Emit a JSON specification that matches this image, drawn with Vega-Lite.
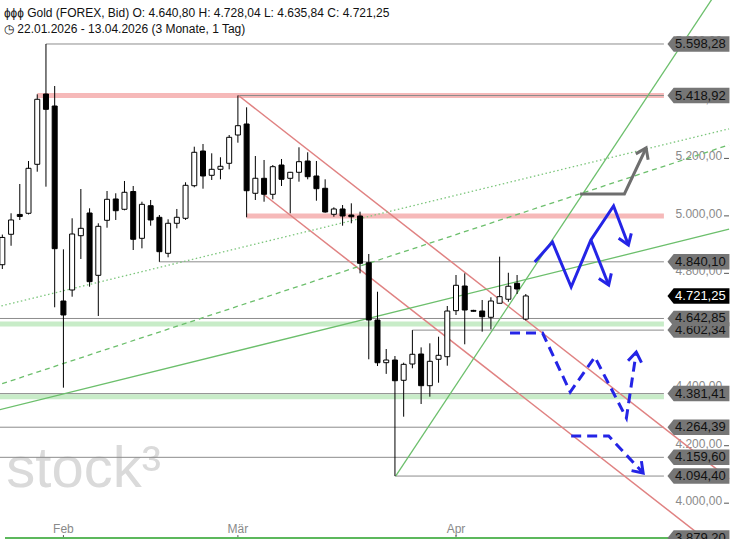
{
 "$schema": "https://vega.github.io/schema/vega-lite/v6.json",
 "width": 734, "height": 539, "autosize": {"type": "none"}, "padding": 0,
 "background": "white",
 "title": {"text": "ɸɸɸ  Gold (FOREX, Bid)  O: 4.640,80  H: 4.728,04  L: 4.635,84  C: 4.721,25", "subtitle": "◷  22.01.2026 - 13.04.2026  (3 Monate, 1 Tag)", "anchor": "start", "frame": "group", "orient": "top", "offset": -36, "dx": 4, "fontSize": 12, "fontWeight": "normal", "color": "#111", "subtitleFontSize": 12, "subtitleColor": "#111", "subtitlePadding": 4, "font": "Liberation Sans", "subtitleFont": "Liberation Sans"},
 "config": {"view": {"stroke": null}, "font": "Liberation Sans", "locale": {"number": {"decimal": ",", "thousands": ".", "grouping": [3], "currency": ["", " €"]}}},
 "datasets": {
  "candles": [
   {"i":0,"o":4830,"h":4935,"l":4815,"c":4925},
   {"i":1,"o":4935.9,"h":5009,"l":4896,"c":4985.7},
   {"i":2,"o":5005,"h":5111,"l":4985.6,"c":4998},
   {"i":3,"o":5009,"h":5191,"l":5005,"c":5165.6},
   {"i":4,"o":5179.5,"h":5423.2,"l":5153.8,"c":5405.8},
   {"i":5,"o":5424.2,"h":5598.28,"l":5101.6,"c":5370.9},
   {"i":6,"o":5382.4,"h":5452,"l":4681.8,"c":4885.8},
   {"i":7,"o":4703.7,"h":4883.6,"l":4402,"c":4655},
   {"i":8,"o":4742,"h":4991.6,"l":4718.7,"c":4936.9},
   {"i":9,"o":4931,"h":5093.5,"l":4849.9,"c":4956.7},
   {"i":10,"o":5010,"h":5026.4,"l":4753.5,"c":4770.9},
   {"i":11,"o":4793.1,"h":4974.2,"l":4651.5,"c":4963.7},
   {"i":12,"o":4984.6,"h":5086.6,"l":4958.8,"c":5057.7},
   {"i":13,"o":5058.8,"h":5078.6,"l":4985.7,"c":5018},
   {"i":14,"o":5022.9,"h":5121.4,"l":5019.4,"c":5082.1},
   {"i":15,"o":5084.8,"h":5104,"l":4881.2,"c":4918.5},
   {"i":16,"o":4921.9,"h":5049.3,"l":4887,"c":5040.2},
   {"i":17,"o":5035.4,"h":5055.3,"l":4965.8,"c":4985.7},
   {"i":18,"o":4995,"h":5003,"l":4840.1,"c":4875.3},
   {"i":19,"o":4869.7,"h":4988.1,"l":4855.8,"c":4974.2},
   {"i":20,"o":4974.2,"h":5024,"l":4956.7,"c":4995.1},
   {"i":21,"o":4991.6,"h":5116.9,"l":4985.7,"c":5106.4},
   {"i":22,"o":5105,"h":5240.8,"l":5099.5,"c":5221.3},
   {"i":23,"o":5225.8,"h":5250.2,"l":5094.6,"c":5138.8},
   {"i":24,"o":5141.2,"h":5217.8,"l":5124.9,"c":5162.1},
   {"i":25,"o":5162.1,"h":5204,"l":5127.3,"c":5172.6},
   {"i":26,"o":5183,"h":5281.5,"l":5162.1,"c":5273.5},
   {"i":27,"o":5281.5,"h":5418.92,"l":5254.7,"c":5313.9},
   {"i":28,"o":5319.8,"h":5377.9,"l":4995,"c":5087.6},
   {"i":29,"o":5078.6,"h":5208.4,"l":5055.3,"c":5130.9},
   {"i":30,"o":5130.8,"h":5194.5,"l":5049.3,"c":5075.1},
   {"i":31,"o":5075.1,"h":5177,"l":5057.7,"c":5171.2},
   {"i":32,"o":5177,"h":5198,"l":5104,"c":5127.3},
   {"i":33,"o":5130.8,"h":5153,"l":5009,"c":5151.7},
   {"i":34,"o":5151.7,"h":5238.7,"l":5119,"c":5188.6},
   {"i":35,"o":5191,"h":5221.3,"l":5127.3,"c":5136.4},
   {"i":36,"o":5138.8,"h":5191,"l":5052.8,"c":5094.6},
   {"i":37,"o":5096,"h":5127.3,"l":5011,"c":5013.5},
   {"i":38,"o":5005.5,"h":5029.8,"l":4997,"c":5024},
   {"i":39,"o":5024,"h":5037.8,"l":4965.8,"c":4999.6},
   {"i":40,"o":5003,"h":5043.7,"l":4974.2,"c":4997},
   {"i":41,"o":4999.6,"h":5014.6,"l":4800,"c":4834.9},
   {"i":42,"o":4837,"h":4867.3,"l":4500.8,"c":4637.6},
   {"i":43,"o":4637.6,"h":4736,"l":4477.4,"c":4488.8},
   {"i":44,"o":4489,"h":4536.6,"l":4450,"c":4498.3},
   {"i":45,"o":4498.3,"h":4512.2,"l":4094.4,"c":4426.2},
   {"i":46,"o":4427.7,"h":4489,"l":4301,"c":4483.3},
   {"i":47,"o":4484.4,"h":4602.34,"l":4469.5,"c":4518.2},
   {"i":48,"o":4519.2,"h":4542.3,"l":4345.2,"c":4408.9},
   {"i":49,"o":4408.9,"h":4556.4,"l":4370.6,"c":4493.8},
   {"i":50,"o":4500.8,"h":4579.4,"l":4419.3,"c":4514.7},
   {"i":51,"o":4509.8,"h":4686.3,"l":4478.5,"c":4668.8},
   {"i":52,"o":4670,"h":4794.2,"l":4655,"c":4758.4},
   {"i":53,"o":4755.9,"h":4800,"l":4553,"c":4672.3},
   {"i":54,"o":4671,"h":4673,"l":4667,"c":4668},
   {"i":55,"o":4668.8,"h":4707.2,"l":4596.9,"c":4649},
   {"i":56,"o":4647,"h":4716.6,"l":4605.2,"c":4703.7},
   {"i":57,"o":4695.8,"h":4858,"l":4695.8,"c":4718.8},
   {"i":58,"o":4709.8,"h":4802,"l":4701,"c":4755},
   {"i":59,"o":4765.3,"h":4794.2,"l":4728.1,"c":4745.5},
   {"i":60,"o":4640.8,"h":4728.04,"l":4635.84,"c":4721.25}
  ],
  "levels": [
   {"v":4624,"from":-1,"k":"green"},
   {"v":4370.5,"from":-1,"k":"green"},
   {"v":5418.92,"from":4,"k":"pink"},
   {"v":5000,"from":28,"k":"pink"},
   {"v":5598.28,"from":5,"k":"gray"},
   {"v":5418.92,"from":27,"k":"gray"},
   {"v":4840.10,"from":18,"k":"gray"},
   {"v":4642.85,"from":-1,"k":"gray"},
   {"v":4602.34,"from":47,"k":"gray"},
   {"v":4381.41,"from":-1,"k":"gray"},
   {"v":4264.39,"from":-1,"k":"gray"},
   {"v":4159.60,"from":-1,"k":"gray"},
   {"v":4094.40,"from":45,"k":"gray"}
  ],
  "trend": [
   {"id":"r1","s":"red","seq":0,"i":27.07,"v":5418.92},
   {"id":"r1","s":"red","seq":1,"i":83.3,"v":4084.6},
   {"id":"r2","s":"red","seq":0,"i":30.04,"v":5072.7},
   {"id":"r2","s":"red","seq":1,"i":83.3,"v":3810},
   {"id":"g1","s":"green","seq":0,"i":45.08,"v":4094.4},
   {"id":"g1","s":"green","seq":1,"i":83.3,"v":5844.4},
   {"id":"g2","s":"green","seq":0,"i":-1,"v":4320.4},
   {"id":"g2","s":"green","seq":1,"i":83.3,"v":4953.5},
   {"id":"g3","s":"gdash","seq":0,"i":-1,"v":4406.3},
   {"id":"g3","s":"gdash","seq":1,"i":83.3,"v":5247.2},
   {"id":"g4","s":"gdot","seq":0,"i":-1,"v":4680.2},
   {"id":"g4","s":"gdot","seq":1,"i":83.3,"v":5303.1}
  ],
  "annot": [
   {"id":"bs1","s":"blue","seq":0,"i":61.02,"v":4839.5},
   {"id":"bs1","s":"blue","seq":1,"i":63.05,"v":4909.1},
   {"id":"bs1","s":"blue","seq":2,"i":65.2,"v":4752.5},
   {"id":"bs1","s":"blue","seq":3,"i":67.46,"v":4916.0},
   {"id":"bs1","s":"blue","seq":4,"i":70.06,"v":5034.4},
   {"id":"bs1","s":"blue","seq":5,"i":71.76,"v":4898.6},
   {"id":"bs1h","s":"blue","seq":0,"i":72.09,"v":4939.0},
   {"id":"bs1h","s":"blue","seq":1,"i":71.76,"v":4898.6},
   {"id":"bs1h","s":"blue","seq":2,"i":70.64,"v":4922.0},
   {"id":"bs2","s":"blue","seq":0,"i":67.46,"v":4916.0},
   {"id":"bs2","s":"blue","seq":1,"i":69.5,"v":4759.4},
   {"id":"bs2h","s":"blue","seq":0,"i":69.8,"v":4800.1},
   {"id":"bs2h","s":"blue","seq":1,"i":69.5,"v":4759.4},
   {"id":"bs2h","s":"blue","seq":2,"i":68.37,"v":4782.4},
   {"id":"bd1h","s":"blue","seq":0,"i":71.72,"v":4495.9},
   {"id":"bd1h","s":"blue","seq":1,"i":72.66,"v":4526.2},
   {"id":"bd1h","s":"blue","seq":2,"i":73.26,"v":4489.0},
   {"id":"bd2h","s":"blue","seq":0,"i":73.25,"v":4146.4},
   {"id":"bd2h","s":"blue","seq":1,"i":73.45,"v":4105.0},
   {"id":"bd2h","s":"blue","seq":2,"i":72.12,"v":4113.4},
   {"id":"bd1","s":"bdash","seq":0,"i":58.19,"v":4592.3},
   {"id":"bd1","s":"bdash","seq":1,"i":61.92,"v":4592.3},
   {"id":"bd1","s":"bdash","seq":2,"i":65.09,"v":4387},
   {"id":"bd1","s":"bdash","seq":3,"i":67.91,"v":4508.8},
   {"id":"bd1","s":"bdash","seq":4,"i":71.53,"v":4296.5},
   {"id":"bd1","s":"bdash","seq":5,"i":72.66,"v":4526.2},
   {"id":"bd2","s":"bdash","seq":0,"i":65.2,"v":4233.8},
   {"id":"bd2","s":"bdash","seq":1,"i":69.5,"v":4233.8},
   {"id":"bd2","s":"bdash","seq":2,"i":73.45,"v":4105.0},
   {"id":"gr1","s":"gray","seq":0,"i":66.22,"v":5076.1},
   {"id":"gr1","s":"gray","seq":1,"i":71.3,"v":5076.1},
   {"id":"gr1","s":"gray","seq":2,"i":73.79,"v":5236.3},
   {"id":"gr1h","s":"gray","seq":0,"i":72.61,"v":5215.7},
   {"id":"gr1h","s":"gray","seq":1,"i":73.79,"v":5236.3},
   {"id":"gr1h","s":"gray","seq":2,"i":74.02,"v":5195.2}
  ],
  "tags": [
   {"v":4602.34,"k":"gray","z":0},
   {"v":5598.28,"k":"gray","z":1},
   {"v":5418.92,"k":"gray","z":1},
   {"v":4840.10,"k":"gray","z":1},
   {"v":4642.85,"k":"gray","z":1},
   {"v":4381.41,"k":"gray","z":1},
   {"v":4264.39,"k":"gray","z":1},
   {"v":4159.60,"k":"gray","z":1},
   {"v":4094.40,"k":"gray","z":1},
   {"v":3879.20,"k":"gray","z":1},
   {"v":4721.25,"k":"black","z":1}
  ],
  "yticks": [{"v":4000},{"v":4200},{"v":4400},{"v":4600},{"v":4800},{"v":5000},{"v":5200},{"v":5400},{"v":5600}],
  "xticks": [{"i":7,"t":"Feb"},{"i":27,"t":"Mär"},{"i":52,"t":"Apr"}],
  "brand": [{"t":"stock³"}]
 },
 "layer": [
  {"data":{"name":"brand"},"mark":{"type":"text","fontSize":58,"color":"#dadada","align":"left","baseline":"alphabetic","font":"Liberation Sans","clip":true},
   "encoding":{"text":{"field":"t"},
    "x":{"datum":0.45,"type":"quantitative","scale":{"domain":[0.305,83.29],"nice":false,"zero":false},"axis":null},
    "y":{"datum":4056,"type":"quantitative","scale":{"domain":[3875.3,5751.4],"nice":false,"zero":false},"axis":null}}},
  {"data":{"name":"levels"},"transform":[{"filter":"datum.k=='green'"}],"mark":{"type":"rule","strokeWidth":5,"color":"#c8ecc8","clip":true},
   "encoding":{"x":{"field":"from","type":"quantitative","scale":{"domain":[0.305,83.29],"nice":false,"zero":false},"axis":null},"x2":{"datum":75.83},
    "y":{"field":"v","type":"quantitative","scale":{"domain":[3875.3,5751.4],"nice":false,"zero":false},"axis":null}}},
  {"data":{"name":"levels"},"transform":[{"filter":"datum.k=='pink'"}],"mark":{"type":"rule","strokeWidth":5,"color":"#f6b9b9","clip":true},
   "encoding":{"x":{"field":"from","type":"quantitative","scale":{"domain":[0.305,83.29],"nice":false,"zero":false},"axis":null},"x2":{"datum":75.83},
    "y":{"field":"v","type":"quantitative","scale":{"domain":[3875.3,5751.4],"nice":false,"zero":false},"axis":null}}},
  {"data":{"name":"levels"},"transform":[{"filter":"datum.k=='gray'"}],"mark":{"type":"rule","strokeWidth":1,"color":"#8c8c8c","clip":true},
   "encoding":{"x":{"field":"from","type":"quantitative","scale":{"domain":[0.305,83.29],"nice":false,"zero":false},"axis":null},"x2":{"datum":75.83},
    "y":{"field":"v","type":"quantitative","scale":{"domain":[3875.3,5751.4],"nice":false,"zero":false},"axis":null}}},
  {"data":{"name":"yticks"},"mark":{"type":"text","fontSize":12,"color":"#8a8a8a","align":"right","baseline":"middle","dy":-2,"font":"Liberation Sans"},
   "encoding":{"text":{"field":"v","type":"quantitative","format":",.2f"},"x":{"datum":82.5,"type":"quantitative","scale":{"domain":[0.305,83.29],"nice":false,"zero":false},"axis":null},
    "y":{"field":"v","type":"quantitative","scale":{"domain":[3875.3,5751.4],"nice":false,"zero":false},"axis":null}}},
  {"data":{"name":"yticks"},"mark":{"type":"rule","strokeWidth":1,"color":"#555"},
   "encoding":{"x":{"datum":82.72,"type":"quantitative","scale":{"domain":[0.305,83.29],"nice":false,"zero":false},"axis":null},"x2":{"datum":83.29},
    "y":{"field":"v","type":"quantitative","scale":{"domain":[3875.3,5751.4],"nice":false,"zero":false},"axis":null}}},
  {"data":{"name":"xticks"},"mark":{"type":"text","fontSize":12,"color":"#8a8a8a","align":"center","baseline":"middle","font":"Liberation Sans"},
   "encoding":{"text":{"field":"t"},"x":{"field":"i","type":"quantitative","scale":{"domain":[0.305,83.29],"nice":false,"zero":false},"axis":null},
    "y":{"datum":3910,"type":"quantitative","scale":{"domain":[3875.3,5751.4],"nice":false,"zero":false},"axis":null}}},
  {"data":{"name":"xticks"},"mark":{"type":"rule","strokeWidth":1,"color":"#555"},
   "encoding":{"x":{"field":"i","type":"quantitative","scale":{"domain":[0.305,83.29],"nice":false,"zero":false},"axis":null},
    "y":{"datum":3889,"type":"quantitative","scale":{"domain":[3875.3,5751.4],"nice":false,"zero":false},"axis":null},"y2":{"datum":3875.3}}},
  {"data":{"name":"xticks"},"mark":{"type":"rule","strokeWidth":2,"color":"#5cb85c"},
   "encoding":{"x":{"datum":0.305,"type":"quantitative","scale":{"domain":[0.305,83.29],"nice":false,"zero":false},"axis":null},"x2":{"datum":83.29},
    "y":{"datum":3878.5,"type":"quantitative","scale":{"domain":[3875.3,5751.4],"nice":false,"zero":false},"axis":null}}},
  {"data":{"name":"trend"},"transform":[{"filter":"datum.s=='red'"}],"mark":{"type":"line","strokeWidth":1.5,"color":"#e08282","clip":true},
   "encoding":{"detail":{"field":"id"},"order":{"field":"seq"},"x":{"field":"i","type":"quantitative","scale":{"domain":[0.305,83.29],"nice":false,"zero":false},"axis":null},
    "y":{"field":"v","type":"quantitative","scale":{"domain":[3875.3,5751.4],"nice":false,"zero":false},"axis":null}}},
  {"data":{"name":"trend"},"transform":[{"filter":"datum.s=='green'"}],"mark":{"type":"line","strokeWidth":1.3,"color":"#6cbf6c","clip":true},
   "encoding":{"detail":{"field":"id"},"order":{"field":"seq"},"x":{"field":"i","type":"quantitative","scale":{"domain":[0.305,83.29],"nice":false,"zero":false},"axis":null},
    "y":{"field":"v","type":"quantitative","scale":{"domain":[3875.3,5751.4],"nice":false,"zero":false},"axis":null}}},
  {"data":{"name":"trend"},"transform":[{"filter":"datum.s=='gdash'"}],"mark":{"type":"line","strokeWidth":1.3,"color":"#6cbf6c","strokeDash":[5,4],"clip":true},
   "encoding":{"detail":{"field":"id"},"order":{"field":"seq"},"x":{"field":"i","type":"quantitative","scale":{"domain":[0.305,83.29],"nice":false,"zero":false},"axis":null},
    "y":{"field":"v","type":"quantitative","scale":{"domain":[3875.3,5751.4],"nice":false,"zero":false},"axis":null}}},
  {"data":{"name":"trend"},"transform":[{"filter":"datum.s=='gdot'"}],"mark":{"type":"line","strokeWidth":1.3,"color":"#7cc67c","strokeDash":[1.5,2.5],"clip":true},
   "encoding":{"detail":{"field":"id"},"order":{"field":"seq"},"x":{"field":"i","type":"quantitative","scale":{"domain":[0.305,83.29],"nice":false,"zero":false},"axis":null},
    "y":{"field":"v","type":"quantitative","scale":{"domain":[3875.3,5751.4],"nice":false,"zero":false},"axis":null}}},
  {"data":{"name":"candles"},"mark":{"type":"rule","strokeWidth":1,"color":"black","clip":true},
   "encoding":{"x":{"field":"i","type":"quantitative","scale":{"domain":[0.305,83.29],"nice":false,"zero":false},"axis":null},
    "y":{"field":"l","type":"quantitative","scale":{"domain":[3875.3,5751.4],"nice":false,"zero":false},"axis":null},"y2":{"field":"h"}}},
  {"data":{"name":"candles"},"mark":{"type":"bar","width":5,"stroke":"black","strokeWidth":1,"clip":true},
   "encoding":{"x":{"field":"i","type":"quantitative","scale":{"domain":[0.305,83.29],"nice":false,"zero":false},"axis":null},
    "y":{"field":"o","type":"quantitative","scale":{"domain":[3875.3,5751.4],"nice":false,"zero":false},"axis":null},"y2":{"field":"c"},
    "fill":{"condition":{"test":"datum.c >= datum.o","value":"white"},"value":"black"}}},
  {"data":{"name":"annot"},"transform":[{"filter":"datum.s=='blue'"}],"mark":{"type":"line","strokeWidth":3,"color":"#2424e6","strokeJoin":"miter","clip":true},
   "encoding":{"detail":{"field":"id"},"order":{"field":"seq"},"x":{"field":"i","type":"quantitative","scale":{"domain":[0.305,83.29],"nice":false,"zero":false},"axis":null},
    "y":{"field":"v","type":"quantitative","scale":{"domain":[3875.3,5751.4],"nice":false,"zero":false},"axis":null}}},
  {"data":{"name":"annot"},"transform":[{"filter":"datum.s=='bdash'"}],"mark":{"type":"line","strokeWidth":3,"color":"#2424e6","strokeDash":[10,6],"clip":true},
   "encoding":{"detail":{"field":"id"},"order":{"field":"seq"},"x":{"field":"i","type":"quantitative","scale":{"domain":[0.305,83.29],"nice":false,"zero":false},"axis":null},
    "y":{"field":"v","type":"quantitative","scale":{"domain":[3875.3,5751.4],"nice":false,"zero":false},"axis":null}}},
  {"data":{"name":"annot"},"transform":[{"filter":"datum.s=='gray'"}],"mark":{"type":"line","strokeWidth":3,"color":"#6e6e6e","strokeJoin":"miter","clip":true},
   "encoding":{"detail":{"field":"id"},"order":{"field":"seq"},"x":{"field":"i","type":"quantitative","scale":{"domain":[0.305,83.29],"nice":false,"zero":false},"axis":null},
    "y":{"field":"v","type":"quantitative","scale":{"domain":[3875.3,5751.4],"nice":false,"zero":false},"axis":null}}},
  {"data":{"name":"tags"},"transform":[{"filter":"datum.z==0"}],"mark":{"type":"point","shape":"M-1,0L-0.8,-0.25L1,-0.25L1,0.25L-0.8,0.25Z","size":3844,"filled":true,"opacity":1,"color":"#767676","clip":true},
   "encoding":{"x":{"datum":79.79,"type":"quantitative","scale":{"domain":[0.305,83.29],"nice":false,"zero":false},"axis":null},
    "y":{"field":"v","type":"quantitative","scale":{"domain":[3875.3,5751.4],"nice":false,"zero":false},"axis":null}}},
  {"data":{"name":"tags"},"transform":[{"filter":"datum.z==0"}],"mark":{"type":"text","fontSize":13,"color":"#111","align":"center","baseline":"middle","font":"Liberation Sans","clip":true},
   "encoding":{"text":{"field":"v","type":"quantitative","format":",.2f"},"x":{"datum":80.01,"type":"quantitative","scale":{"domain":[0.305,83.29],"nice":false,"zero":false},"axis":null},
    "y":{"field":"v","type":"quantitative","scale":{"domain":[3875.3,5751.4],"nice":false,"zero":false},"axis":null}}},
  {"data":{"name":"tags"},"transform":[{"filter":"datum.z==1"}],"mark":{"type":"point","shape":"M-1,0L-0.8,-0.25L1,-0.25L1,0.25L-0.8,0.25Z","size":3844,"filled":true,"opacity":1,"clip":true},
   "encoding":{"color":{"condition":{"test":"datum.k=='black'","value":"#000000"},"value":"#767676"},"x":{"datum":79.79,"type":"quantitative","scale":{"domain":[0.305,83.29],"nice":false,"zero":false},"axis":null},
    "y":{"field":"v","type":"quantitative","scale":{"domain":[3875.3,5751.4],"nice":false,"zero":false},"axis":null}}},
  {"data":{"name":"tags"},"transform":[{"filter":"datum.z==1"}],"mark":{"type":"text","fontSize":13,"align":"center","baseline":"middle","font":"Liberation Sans","clip":true},
   "encoding":{"text":{"field":"v","type":"quantitative","format":",.2f"},"color":{"condition":{"test":"datum.k=='black'","value":"#ffffff"},"value":"#111111"},
    "fontWeight":{"condition":{"test":"datum.k=='black'","value":"bold"},"value":"normal"},
    "x":{"datum":80.01,"type":"quantitative","scale":{"domain":[0.305,83.29],"nice":false,"zero":false},"axis":null},
    "y":{"field":"v","type":"quantitative","scale":{"domain":[3875.3,5751.4],"nice":false,"zero":false},"axis":null}}}
 ]
}
